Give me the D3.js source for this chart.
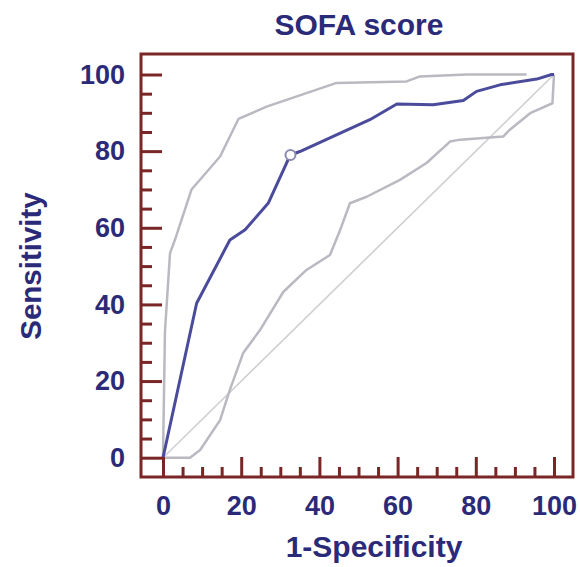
<!DOCTYPE html>
<html>
<head>
<meta charset="utf-8">
<script src="https://cdn.jsdelivr.net/npm/d3@7"></script>
<style>
  html, body { margin: 0; padding: 0; background: #ffffff; }
  svg { display: block; }
  text { font-family: "Liberation Sans", Arial, sans-serif; font-weight: bold; fill: #2b2a78; }
</style>
</head>
<body>
<svg id="chart" width="580" height="567"></svg>
<script>
// ---- data ----
const title = "SOFA score";
const xLabel = "1-Specificity";
const yLabel = "Sensitivity";
const majorTicks = [0, 20, 40, 60, 80, 100];
const minorTicks = [5, 10, 15, 25, 30, 35, 45, 50, 55, 65, 70, 75, 85, 90, 95];

// ROC curve
const rocX = [0, 8.6, 17.1, 21, 26.9, 31.6, 32.6, 35, 52.9, 59.8, 69.1, 76.8, 80.2, 86.2, 95.6, 99.4, 100];
const rocY = [0, 40.3, 56.8, 59.5, 66.4, 76.9, 79, 79.9, 88.2, 92.3, 92.1, 93.2, 95.6, 97.3, 98.8, 100, 100];

// upper confidence bound
const upX = [0, 0.5, 1.8, 3.1, 7.3, 14.6, 19.3, 26.5, 44.4, 62.3, 65.7, 77.7, 93];
const upY = [0, 33, 53.4, 57, 70, 78.6, 88.4, 91.6, 97.8, 98.2, 99.5, 100, 100];

// lower confidence bound
const loX = [0, 6.9, 9.5, 14.6, 17.1, 20.5, 24.8, 30.8, 36.7, 42.7, 45.3, 47.8, 52.1, 60.6, 67.4, 73.4, 76, 87, 88.7, 93.9, 99.6, 100];
const loY = [0, 0, 2, 9.8, 17.7, 27.3, 33.3, 43.3, 49, 52.9, 59.4, 66.4, 68.1, 72.5, 76.9, 82.5, 83, 83.8, 85.6, 89.9, 92.5, 100];

// reference diagonal
const diagX = [0, 100];
const diagY = [0, 100];

// optimal cut-off point
const cutX = [32.6];
const cutY = [79];

// ---- drawing ----
const svg = d3.select("#chart");
const frame = { left: 141, right: 573, top: 54, bottom: 477 };
const x = d3.scaleLinear().domain([0, 100]).range([163, 554]);
const y = d3.scaleLinear().domain([0, 100]).range([457.7, 74.5]);

const frameColor = "#7a2626";

const line = d3.line().x(d => x(d[0])).y(d => y(d[1]));
const zip = (a, b) => a.map((v, i) => [v, b[i]]);

// diagonal
svg.append("path").attr("d", line(zip(diagX, diagY)))
  .attr("fill", "none").attr("stroke", "#cfcfd2").attr("stroke-width", 1.6);

// CI bounds
svg.append("path").attr("d", line(zip(upX, upY)))
  .attr("fill", "none").attr("stroke", "#b9b9c2").attr("stroke-width", 2.5).attr("stroke-linejoin", "round");
svg.append("path").attr("d", line(zip(loX, loY)))
  .attr("fill", "none").attr("stroke", "#b9b9c2").attr("stroke-width", 2.5).attr("stroke-linejoin", "round");

// ROC curve
svg.append("path").attr("d", line(zip(rocX, rocY)))
  .attr("fill", "none").attr("stroke", "#4b4b9c").attr("stroke-width", 3).attr("stroke-linejoin", "round");

// cut-off marker
svg.selectAll("circle.cut").data(zip(cutX, cutY)).enter().append("circle")
  .attr("class", "cut")
  .attr("cx", d => x(d[0])).attr("cy", d => y(d[1])).attr("r", 5)
  .attr("fill", "#ffffff").attr("stroke", "#8a8ab0").attr("stroke-width", 2);

// axes: major ticks (inward) with labels
const yAxis = svg.append("g").attr("transform", `translate(${frame.left},0)`)
  .call(d3.axisLeft(y).tickValues(majorTicks).tickSize(-21).tickPadding(16).tickFormat(d3.format("d")));
const yMinor = svg.append("g").attr("transform", `translate(${frame.left},0)`)
  .call(d3.axisLeft(y).tickValues(minorTicks).tickSize(-11).tickFormat(""));
const xAxis = svg.append("g").attr("transform", `translate(0,${frame.bottom})`)
  .call(d3.axisBottom(x).tickValues(majorTicks).tickSize(-20).tickPadding(19).tickFormat(d3.format("d")));
const xMinor = svg.append("g").attr("transform", `translate(0,${frame.bottom})`)
  .call(d3.axisBottom(x).tickValues(minorTicks).tickSize(-10).tickFormat(""));

[yAxis, yMinor, xAxis, xMinor].forEach(g => {
  g.select(".domain").remove();
  g.selectAll(".tick line").attr("stroke", frameColor).attr("stroke-width", 3);
  g.selectAll(".tick text").attr("font-size", 27).attr("fill", "#2b2a78")
    .attr("font-family", "'Liberation Sans', Arial, sans-serif").attr("font-weight", "bold");
});

// frame
svg.append("rect")
  .attr("x", frame.left).attr("y", frame.top)
  .attr("width", frame.right - frame.left).attr("height", frame.bottom - frame.top)
  .attr("fill", "none").attr("stroke", frameColor).attr("stroke-width", 3);

// titles
svg.append("text").attr("x", 359).attr("y", 35).attr("text-anchor", "middle")
  .attr("font-size", 30).text(title);
svg.append("text").attr("x", 374).attr("y", 557).attr("text-anchor", "middle")
  .attr("font-size", 30).text(xLabel);
svg.append("text").attr("transform", "translate(41,266) rotate(-90)").attr("text-anchor", "middle")
  .attr("font-size", 29.5).text(yLabel);
</script>
</body>
</html>
